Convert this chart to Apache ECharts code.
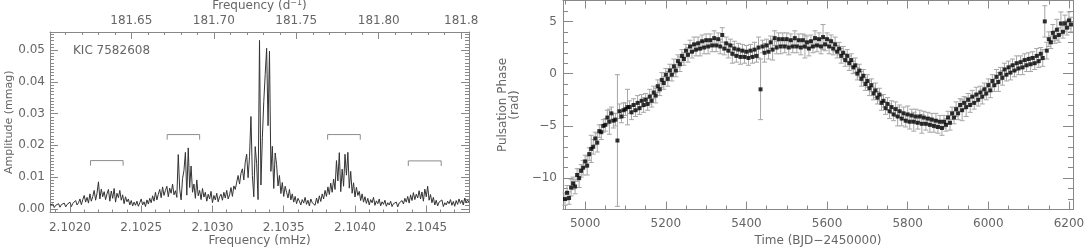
<!DOCTYPE html>
<html>
<head>
<meta charset="utf-8">
<script src="https://cdn.jsdelivr.net/npm/echarts@6/dist/echarts.min.js"></script>
<style>
  html, body { margin: 0; padding: 0; background: #fff; }
  #chart { width: 1084px; height: 249px; }
</style>
</head>
<body>
<div id="chart"></div>
<script>
// ---- left panel: amplitude spectrum ----
const specStart = 2.10186;   // mHz
const specStep = 0.00001;
const specAmp = [
  0.0012, 0.0006, 0.0015, 0.0004, 0.0011, 0.0007, 0.0016, 0.0005, 0.0013, 0.0008,
  0.0018, 0.0006, 0.0014, 0.0009, 0.0021, 0.0007, 0.0017, 0.0011, 0.0026, 0.0012,
  0.0019, 0.0031, 0.0013, 0.0029, 0.0042, 0.0021, 0.0036, 0.0018, 0.0047, 0.0024,
  0.0039, 0.0058, 0.0027, 0.0049, 0.0085, 0.0031, 0.0062, 0.0038, 0.0054, 0.0029,
  0.0047, 0.0061, 0.0024, 0.0056, 0.0033, 0.0064, 0.0021, 0.0049, 0.0035, 0.0058,
  0.0027, 0.0044, 0.0016, 0.0038, 0.0022, 0.0031, 0.0012, 0.0026, 0.0009, 0.0021,
  0.0011, 0.0024, 0.0008, 0.0019, 0.0031, 0.0012, 0.0022, 0.0007, 0.0028, 0.0015,
  0.0033, 0.0019, 0.0041, 0.0024, 0.0052, 0.0028, 0.0046, 0.0061, 0.0035, 0.0069,
  0.0042, 0.0058, 0.0071, 0.0038, 0.0065, 0.0049, 0.0078, 0.0044, 0.0057, 0.0036,
  0.0171, 0.0062, 0.0028, 0.0095, 0.0121, 0.0178, 0.0043, 0.0192, 0.0067, 0.0135,
  0.0052, 0.0078, 0.0033, 0.0091, 0.0041, 0.0058, 0.0029, 0.0064, 0.0037, 0.0052,
  0.0024, 0.0046, 0.0031, 0.0055, 0.0019, 0.0042, 0.0028, 0.0049, 0.0022, 0.0038,
  0.0046, 0.0027, 0.0052, 0.0034, 0.0058, 0.0031, 0.0044, 0.0067, 0.0039, 0.0072,
  0.0061, 0.0084, 0.0105, 0.0078, 0.0112, 0.0126, 0.0091, 0.0147, 0.0172, 0.0098,
  0.0165, 0.0291, 0.0105, 0.0038, 0.0196, 0.0142, 0.0029, 0.0531, 0.0075, 0.0224,
  0.0338, 0.0423, 0.0506, 0.0262, 0.0497, 0.0118, 0.0197, 0.0064, 0.0176, 0.0139,
  0.0072, 0.0105, 0.0048, 0.0083, 0.0039, 0.0071, 0.0052, 0.0034, 0.0061, 0.0028,
  0.0047, 0.0021, 0.0039, 0.0016, 0.0033, 0.0024, 0.0012, 0.0029, 0.0018, 0.0036,
  0.0014, 0.0027, 0.0009, 0.0031, 0.0019, 0.0025, 0.0011, 0.0034, 0.0017, 0.0041,
  0.0023, 0.0047, 0.0031, 0.0058, 0.0039, 0.0069, 0.0045, 0.0081, 0.0052, 0.0094,
  0.0061, 0.0152, 0.0088, 0.0177, 0.0054, 0.0125, 0.0071, 0.0172, 0.0106, 0.0178,
  0.0065, 0.0118, 0.0049, 0.0082, 0.0037, 0.0068, 0.0042, 0.0055, 0.0026, 0.0047,
  0.0021, 0.0038, 0.0017, 0.0033, 0.0012, 0.0029, 0.0019, 0.0036, 0.0011, 0.0025,
  0.0016, 0.0031, 0.0009, 0.0022, 0.0014, 0.0027, 0.0008, 0.0019, 0.0012, 0.0024,
  0.0007, 0.0016, 0.0011, 0.0021, 0.0006, 0.0018, 0.0013, 0.0026, 0.0015, 0.0033,
  0.0021, 0.0039, 0.0018, 0.0044, 0.0026, 0.0051, 0.0029, 0.0046, 0.0034, 0.0057,
  0.0031, 0.0053, 0.0024, 0.0062, 0.0038, 0.0071, 0.0027, 0.0045, 0.0019, 0.0036,
  0.0012, 0.0027, 0.0009, 0.0021, 0.0015, 0.0028, 0.0007, 0.0019, 0.0012, 0.0024,
  0.0016, 0.0029, 0.0011, 0.0023, 0.0008, 0.0026, 0.0014, 0.0031, 0.0017, 0.0027,
  0.0012, 0.0034, 0.0019, 0.0028, 0.0021
];
// rotational sidelobe brackets (mHz) and their height (mmag)
const bracketLeft = [2.102144, 2.102682, 2.103808, 2.104374];
const bracketRight = [2.102373, 2.102910, 2.104037, 2.104605];
const bracketTop = [0.0152, 0.0234, 0.0234, 0.0151];
const bracketLeg = 0.0016;

const freqMin = 2.10186, freqMax = 2.10480;
const ampMin = -0.00117, ampMax = 0.05574;
const mhzToCd = 86.4;
const freqTicks = [2.1020, 2.1025, 2.1030, 2.1035, 2.1040, 2.1045];
const ampTicks = [0, 0.01, 0.02, 0.03, 0.04, 0.05];
const cdTicks = [181.65, 181.70, 181.75, 181.80, 181.85];
const cdLabels = ['181.65', '181.70', '181.75', '181.80', '181.8'];

// ---- right panel: pulsation phase ----
const phaseStart = 4950;    // BJD-2450000
const phaseStep = 5;
const phase = [
  -12.0, -11.4, -11.9, -10.9, -10.5, -10.8, -9.7, -10.0, -9.3, -9.0,
  -8.4, -8.8, -7.7, -7.2, -7.0, -6.2, -6.6, -5.5, -5.6, -5.0,
  -4.9, -4.2, -4.6, -3.8, -4.5, -4.4, -6.4, -3.6, -4.1, -3.5,
  -3.4, -3.2, -3.2, -3.7, -3.0, -3.5, -2.8, -3.3, -2.6, -3.0,
  -2.5, -2.9, -2.2, -2.6, -1.8, -2.1, -1.2, -1.5, -0.6, -0.9,
  -0.1, -0.5, 0.3, -0.1, 0.7, 0.3, 1.2, 0.9, 1.7, 1.4,
  2.2, 1.8, 2.6, 2.1, 2.8, 2.3, 2.9, 2.4, 3.1, 2.5,
  3.2, 2.6, 3.2, 2.7, 3.4, 2.7, 3.3, 2.6, 3.7, 2.4,
  2.9, 2.2, 2.7, 1.9, 2.4, 1.7, 2.3, 1.6, 2.2, 1.6,
  2.1, 1.5, 2.2, 1.6, 2.3, 1.7, 2.5, -1.5, 2.6, 2.0,
  2.7, 2.1, 3.0, 2.3, 3.4, 2.5, 3.3, 2.6, 3.3, 2.6,
  3.3, 2.5, 3.2, 2.6, 3.4, 2.6, 3.2, 2.5, 3.2, 2.6,
  3.0, 2.4, 3.1, 2.6, 3.4, 2.7, 3.3, 2.6, 3.5, 2.8,
  3.3, 2.6, 3.1, 2.4, 2.8, 2.1, 2.4, 1.7, 2.0, 1.3,
  1.7, 1.0, 1.3, 0.6, 0.8, 0.0, 0.3, -0.5, -0.2, -1.0,
  -0.7, -1.4, -1.1, -1.9, -1.6, -2.3, -2.0, -2.8, -2.6, -3.3,
  -2.9, -3.6, -3.2, -3.9, -3.4, -4.1, -3.6, -4.3, -3.8, -4.5,
  -3.9, -4.6, -4.0, -4.6, -4.1, -4.7, -4.1, -4.8, -4.2, -4.8,
  -4.3, -4.9, -4.4, -5.0, -4.5, -5.1, -4.6, -5.2, -4.6, -4.9,
  -4.2, -4.7, -3.8, -4.2, -3.4, -3.8, -3.0, -3.5, -2.8, -3.2,
  -2.5, -3.0, -2.2, -2.8, -2.0, -2.5, -1.8, -2.2, -1.5, -1.9,
  -1.1, -1.6, -0.7, -1.1, -0.3, -0.8, 0.0, -0.4, 0.4, -0.1,
  0.6, 0.1, 0.8, 0.3, 1.0, 0.5, 1.1, 0.6, 1.3, 0.8,
  1.4, 0.9, 1.5, 1.0, 1.7, 1.2, 1.9, 1.5, 5.0, 2.2,
  3.3, 3.0, 3.9, 3.5, 4.2, 3.7, 4.8, 4.0, 4.8, 4.4,
  5.1, 4.7
];
const phaseErr = [
  0.6, 0.7, 0.6, 0.8, 0.6, 0.7, 0.6, 0.9, 0.6, 0.7,
  0.6, 0.9, 0.6, 1.3, 0.7, 0.6, 0.9, 0.6, 0.7, 0.6,
  0.6, 0.7, 1.2, 0.6, 0.7, 0.6, 6.3, 0.7, 0.6, 0.7,
  0.6, 1.7, 0.6, 0.7, 0.6, 0.6, 0.7, 0.6, 0.6, 0.7,
  0.6, 0.6, 0.7, 0.6, 0.6, 0.7, 0.6, 0.6, 0.7, 0.6,
  0.6, 0.7, 0.6, 0.6, 0.7, 0.6, 0.6, 0.7, 0.6, 0.6,
  0.6, 0.7, 0.6, 0.6, 0.7, 0.6, 0.6, 0.7, 0.6, 0.6,
  0.6, 0.7, 0.6, 0.6, 0.7, 0.6, 0.6, 0.7, 0.7, 0.6,
  0.6, 0.7, 0.6, 0.9, 0.7, 0.6, 0.6, 0.7, 0.6, 0.6,
  0.6, 0.7, 0.6, 0.6, 0.7, 0.6, 1.0, 2.9, 0.6, 0.9,
  0.6, 0.7, 0.6, 1.0, 0.7, 0.6, 0.6, 0.7, 0.6, 0.6,
  0.6, 0.7, 0.6, 0.6, 0.7, 0.6, 0.6, 0.7, 0.6, 1.1,
  0.6, 0.7, 0.6, 0.6, 0.7, 0.6, 0.6, 0.7, 1.2, 0.6,
  0.6, 0.7, 0.6, 0.6, 0.7, 0.6, 0.6, 0.7, 0.6, 0.6,
  0.6, 0.7, 0.6, 0.6, 0.7, 0.6, 0.6, 0.7, 0.6, 0.6,
  0.6, 0.7, 0.6, 0.6, 0.7, 0.6, 0.6, 0.7, 0.6, 0.6,
  0.6, 0.7, 0.6, 0.6, 0.7, 0.9, 0.6, 0.7, 0.6, 0.6,
  0.8, 0.7, 0.6, 0.9, 0.7, 0.6, 0.6, 0.9, 0.6, 0.6,
  0.6, 0.7, 0.6, 0.6, 0.7, 0.6, 0.6, 0.7, 0.6, 0.6,
  0.6, 0.7, 0.6, 0.6, 0.7, 0.6, 0.6, 1.0, 0.6, 0.9,
  0.6, 0.7, 0.6, 0.6, 0.7, 0.6, 0.6, 0.7, 0.6, 0.6,
  0.6, 0.7, 0.6, 0.6, 0.7, 0.9, 0.6, 0.7, 0.6, 0.6,
  0.6, 0.7, 0.6, 0.6, 0.7, 0.6, 0.6, 0.7, 0.6, 0.6,
  0.6, 0.7, 0.6, 0.6, 0.7, 0.6, 0.6, 0.8, 1.5, 0.8,
  0.7, 0.6, 0.8, 0.6, 1.0, 0.7, 1.1, 0.6, 0.8, 0.7,
  0.8, 0.7
];
const timeMin = 4945, timeMax = 6210;
const phaseMin = -13, phaseMax = 7;
const timeTicks = [5000, 5200, 5400, 5600, 5800, 6000, 6200];
const phaseTicks = [-10, -5, 0, 5];

const textColor = '#666';
const frameColor = '#888';
const font = 'DejaVu Sans';

function steps(from, to, step) {
  const out = [];
  for (let v = from; v <= to + step * 1e-6; v += step) out.push(+v.toFixed(6));
  return out;
}

// one axis = frame line + inward ticks; labels only where asked
function axis(gridIndex, position, min, max, ticks, len, extra) {
  return Object.assign({
    type: 'value', gridIndex, position, min, max,
    nameMoveOverlap: false,
    axisLine: { show: true, onZero: false, lineStyle: { color: frameColor, width: 1 } },
    axisTick: { show: true, inside: true, length: len, customValues: ticks, lineStyle: { color: frameColor, width: 1 } },
    axisLabel: { show: false },
    splitLine: { show: false }
  }, extra || {});
}
const noLine = { axisLine: { show: false, onZero: false } };

function labels(values, formatter, margin) {
  return { show: true, customValues: values, formatter, margin, color: textColor, fontSize: 12, fontFamily: font };
}
const nameStyle = { color: textColor, fontSize: 12, fontFamily: font };
const minus = v => String(v).replace('-', '\u2212');

const cdMin = freqMin * mhzToCd, cdMax = freqMax * mhzToCd;

const chart = echarts.init(document.getElementById('chart'), null, { renderer: 'canvas' });

const specData = specAmp.map((a, i) => [specStart + i * specStep, a]);
const phaseData = phase.map((p, i) => [phaseStart + i * phaseStep, p]);
const errData = phase.map((p, i) => [phaseStart + i * phaseStep, p - phaseErr[i], p + phaseErr[i]]);

const bracketSeries = bracketLeft.map((l, i) => ({
  type: 'line', xAxisIndex: 0, yAxisIndex: 0, showSymbol: false, silent: true,
  lineStyle: { color: '#8c8c8c', width: 1 },
  data: [[l, bracketTop[i] - bracketLeg], [l, bracketTop[i]], [bracketRight[i], bracketTop[i]], [bracketRight[i], bracketTop[i] - bracketLeg]]
}));

const options = {
  animation: false,
  backgroundColor: '#fff',
  grid: [
    { left: 50, top: 32, width: 419, height: 180.5, outerBoundsMode: 'none', containLabel: false },
    { left: 563, top: 0.5, width: 510, height: 209, outerBoundsMode: 'none', containLabel: false }
  ],
  xAxis: [
    axis(0, 'bottom', freqMin, freqMax, freqTicks, 7, {
      axisLabel: labels(freqTicks, v => v.toFixed(4), 9),
      name: 'Frequency (mHz)', nameLocation: 'middle', nameGap: 22, nameTextStyle: nameStyle
    }),
    axis(0, 'bottom', freqMin, freqMax, steps(2.1019, 2.1048, 0.0001), 3, noLine),
    axis(0, 'top', cdMin, cdMax, cdTicks, 7, {
      axisLabel: labels(cdTicks, v => cdLabels[cdTicks.findIndex(t => Math.abs(t - v) < 1e-6)], 5),
      name: 'Frequency (d{s|\u22121})', nameLocation: 'middle', nameGap: 20,
      nameTextStyle: Object.assign({ rich: { s: { fontSize: 8, verticalAlign: 'top', padding: [0, 0, 5, 0], color: textColor, fontFamily: font } } }, nameStyle)
    }),
    axis(0, 'top', cdMin, cdMax, steps(181.61, 181.85, 0.01), 3, noLine),
    axis(1, 'bottom', timeMin, timeMax, timeTicks, 8, {
      axisLabel: labels(timeTicks, v => String(v), 8),
      name: 'Time (BJD\u22122450000)', nameLocation: 'middle', nameGap: 25, nameTextStyle: nameStyle
    }),
    axis(1, 'bottom', timeMin, timeMax, steps(4950, 6200, 50), 4, noLine),
    axis(1, 'top', timeMin, timeMax, timeTicks, 8),
    axis(1, 'top', timeMin, timeMax, steps(4950, 6200, 50), 4, noLine)
  ],
  yAxis: [
    axis(0, 'left', ampMin, ampMax, ampTicks, 8, {
      axisLabel: labels(ampTicks, v => v.toFixed(2), 5),
      name: 'Amplitude (mmag)', nameLocation: 'middle', nameGap: 35,
      nameTextStyle: Object.assign({}, nameStyle, { fontSize: 11 })
    }),
    axis(0, 'left', ampMin, ampMax, steps(-0.001, 0.055, 0.001), 4, noLine),
    axis(0, 'right', ampMin, ampMax, ampTicks, 8),
    axis(0, 'right', ampMin, ampMax, steps(-0.001, 0.055, 0.001), 4, noLine),
    axis(1, 'left', phaseMin, phaseMax, phaseTicks, 10, {
      axisLabel: labels(phaseTicks, minus, 6),
      name: 'Pulsation Phase\n(rad)', nameLocation: 'middle', nameGap: 42,
      nameTextStyle: Object.assign({ lineHeight: 12 }, nameStyle)
    }),
    axis(1, 'left', phaseMin, phaseMax, steps(-13, 7, 1), 5, noLine),
    axis(1, 'right', phaseMin, phaseMax, phaseTicks, 10),
    axis(1, 'right', phaseMin, phaseMax, steps(-13, 7, 1), 5, noLine)
  ],
  graphic: [
    { type: 'text', left: 73, top: 45, style: { text: 'KIC 7582608', fill: textColor, fontSize: 12, fontFamily: font } }
  ],
  series: [
    {
      type: 'line', xAxisIndex: 0, yAxisIndex: 0, showSymbol: false, silent: true,
      lineStyle: { color: '#333', width: 1 },
      data: specData
    },
    ...bracketSeries,
    {
      type: 'custom', xAxisIndex: 4, yAxisIndex: 4, silent: true,
      encode: { x: 0, y: [1, 2] },
      renderItem: (params, api) => {
        const lo = api.coord([api.value(0), api.value(1)]);
        const hi = api.coord([api.value(0), api.value(2)]);
        const cap = 2.5;
        const st = { stroke: '#a6a6a6', lineWidth: 1 };
        return {
          type: 'group',
          children: [
            { type: 'line', shape: { x1: lo[0], y1: lo[1], x2: hi[0], y2: hi[1] }, style: st },
            { type: 'line', shape: { x1: lo[0] - cap, y1: lo[1], x2: lo[0] + cap, y2: lo[1] }, style: st },
            { type: 'line', shape: { x1: hi[0] - cap, y1: hi[1], x2: hi[0] + cap, y2: hi[1] }, style: st }
          ]
        };
      },
      data: errData
    },
    {
      type: 'scatter', xAxisIndex: 4, yAxisIndex: 4, silent: true,
      symbol: 'rect', symbolSize: 4,
      itemStyle: { color: '#000' },
      data: phaseData
    }
  ]
};

chart.setOption(options);
</script>
</body>
</html>
